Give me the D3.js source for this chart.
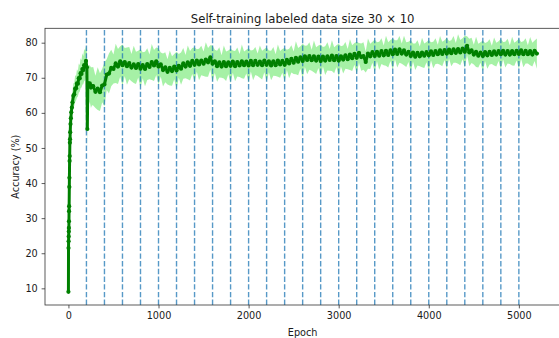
<!DOCTYPE html>
<html>
<head>
<meta charset="utf-8">
<script src="https://cdn.jsdelivr.net/npm/d3@7"></script>
<style>
  html, body { margin: 0; padding: 0; background: #fff; }
  svg { display: block; font-family: "DejaVu Sans", sans-serif; }
</style>
</head>
<body>
<svg id="chart" width="559" height="338"></svg>
<script>
// ---- data -------------------------------------------------------------
// Warm-up phase: logged at irregular epochs
const warmupEpochs = [0, 1, 2, 3, 4, 5, 6, 7, 8, 10, 11, 13, 14, 16, 18, 20, 23, 27, 32, 38, 45,
  55, 65, 75, 85, 95, 105, 115, 125, 135, 145, 155, 165, 175, 185, 195, 205, 210, 215, 225, 237, 250, 262];
const warmupMean = [9.0, 21.5, 23.4, 24.8, 26.2, 27.2, 29.1, 32.0, 33.4, 38.9, 41.5, 46.3, 47.7, 51.5, 52.5,
  54.5, 56.8, 58.5, 60.2, 61.5, 63.0, 64.9, 65.3, 66.9, 67.0, 68.4, 68.3, 69.9, 69.8, 71.3, 71.1, 72.5, 72.2,
  73.6, 73.5, 74.8, 73.0, 55.4, 68.5, 67.8, 68.4, 67.2, 67.6];
const warmupStd = [0.8, 1.2, 1.0, 1.3, 1.1, 1.4, 1.2, 1.5, 1.3, 1.6, 1.5, 1.8, 1.6, 2.0, 1.9, 2.2, 2.4, 2.6,
  2.8, 3.0, 3.2, 3.5, 3.3, 3.8, 3.5, 4.0, 3.6, 4.2, 3.8, 4.3, 3.9, 4.5, 4.0, 4.6, 4.2, 4.4, 4.8, 5.5, 5.0,
  5.6, 5.2, 5.8, 5.4];

// Self-training phase: logged every 25 epochs from 275 to 5200
const selfTrainStart = 275, selfTrainEnd = 5200, logEvery = 25;
const selfTrainMean = [
  67.6, 66.0, 66.9, 65.9, 67.8, 68.1, 70.9, 71.2,
  72.8, 72.5, 74.1, 73.2, 74.7, 73.6, 74.5, 73.3,
  74.2, 72.9, 73.8, 72.8, 73.9, 72.6, 73.6, 72.5,
  73.9, 73.1, 74.5, 73.5, 74.7, 73.2, 73.8, 72.2,
  73.0, 71.7, 72.8, 71.9, 73.2, 72.1, 73.4, 72.6,
  74.1, 73.2, 74.4, 73.4, 74.8, 73.7, 74.9, 73.8,
  74.9, 74.0, 75.2, 74.4, 75.8, 74.0, 74.7, 73.3,
  74.4, 73.2, 74.5, 73.3, 74.4, 73.4, 74.6, 73.3,
  74.5, 73.5, 74.7, 73.6, 74.6, 73.5, 74.8, 73.6,
  74.8, 73.7, 74.6, 73.6, 74.9, 73.7, 74.7, 73.5,
  74.7, 73.6, 74.9, 73.8, 74.8, 73.7, 75.1, 74.1,
  75.4, 74.3, 75.7, 74.6, 75.8, 74.8, 76.1, 75.1,
  76.2, 75.0, 76.1, 74.9, 76.0, 74.8, 76.0, 74.9,
  76.1, 75.1, 76.3, 75.0, 76.2, 74.9, 76.1, 75.2,
  76.4, 75.3, 76.6, 75.6, 76.8, 75.7, 77.1, 75.9,
  76.2, 74.5, 76.9, 76.1, 77.3, 76.2, 77.4, 76.3,
  77.6, 76.4, 77.7, 76.5, 77.8, 76.7, 78.0, 76.8,
  78.1, 76.9, 77.8, 76.6, 77.4, 76.2, 77.2, 76.0,
  77.1, 76.1, 77.2, 76.3, 77.3, 76.4, 77.5, 76.5,
  77.6, 76.7, 77.8, 76.8, 77.9, 76.9, 78.0, 77.0,
  78.1, 77.1, 78.2, 77.2, 78.3, 77.4, 79.1, 77.2,
  77.8, 76.6, 77.4, 76.3, 77.2, 76.2, 77.3, 76.4,
  77.4, 76.5, 77.5, 76.6, 77.6, 76.7, 77.7, 76.6,
  77.6, 76.6, 77.6, 76.7, 77.7, 76.8, 77.8, 76.7,
  77.7, 76.7, 77.6, 76.6, 77.7, 76.9
];
const selfTrainStd = [
  5.5, 4.6, 6.1, 5.4, 4.8, 6.3, 4.4, 5.7,
  5.2, 4.1, 5.6, 5.0, 4.3, 5.9, 4.0, 5.3,
  4.6, 3.9, 5.3, 4.6, 3.8, 5.5, 3.7, 4.9,
  4.5, 3.5, 5.1, 4.4, 3.9, 5.2, 3.4, 4.7,
  4.3, 3.6, 5.0, 4.2, 3.6, 5.3, 3.4, 4.6,
  4.4, 3.3, 4.8, 4.2, 3.7, 5.0, 3.2, 4.5,
  4.2, 3.5, 4.9, 4.1, 3.5, 5.2, 3.3, 4.4,
  4.3, 3.2, 4.7, 4.2, 3.4, 4.9, 3.2, 4.3,
  4.1, 3.3, 4.8, 3.9, 3.4, 4.9, 3.0, 4.3,
  4.0, 3.2, 4.6, 4.1, 3.3, 5.0, 3.1, 4.2,
  4.1, 3.1, 4.6, 3.8, 3.4, 4.8, 2.9, 4.2,
  3.9, 3.2, 4.7, 3.9, 3.2, 4.9, 3.0, 4.1,
  3.9, 3.0, 4.5, 3.8, 3.2, 4.7, 2.8, 4.1,
  4.0, 3.1, 4.4, 3.7, 3.1, 4.8, 2.9, 4.0,
  3.8, 2.9, 4.4, 3.7, 3.1, 4.6, 2.8, 3.9,
  3.9, 3.0, 4.3, 3.6, 3.0, 4.7, 2.7, 4.0,
  3.7, 2.8, 4.3, 3.6, 3.0, 4.5, 2.7, 3.9,
  3.8, 2.9, 4.2, 3.5, 2.9, 4.6, 2.6, 3.8,
  3.6, 2.8, 4.2, 3.5, 2.9, 4.4, 2.6, 3.8,
  3.7, 2.7, 4.1, 3.5, 2.8, 4.5, 2.5, 3.7,
  3.8, 2.8, 4.2, 3.6, 3.0, 4.6, 2.7, 3.9,
  3.6, 2.8, 4.3, 3.4, 2.9, 4.4, 2.6, 3.8,
  3.6, 2.6, 4.0, 3.4, 2.8, 4.4, 2.5, 3.7,
  3.5, 2.7, 4.1, 3.3, 2.8, 4.3, 2.4, 3.7,
  3.6, 2.6, 4.0, 3.4, 2.9, 4.3
];

// Epochs where a new self-training round begins
const roundEpochs = [200, 400, 600, 800, 1000, 1200, 1400, 1600, 1800, 2000, 2200, 2400, 2600,
  2800, 3000, 3200, 3400, 3600, 3800, 4000, 4200, 4400, 4600, 4800, 5000];

const xTicks = [0, 1000, 2000, 3000, 4000, 5000];
const yTicks = [10, 20, 30, 40, 50, 60, 70, 80];

const titleText = "Self-training labeled data size 30 \u00d7 10";
const xLabel = "Epoch";
const yLabel = "Accuracy (%)";

// ---- assemble records -------------------------------------------------
const selfTrainEpochs = d3.range(selfTrainStart, selfTrainEnd + 1, logEvery);
const records = warmupEpochs.map((e, i) => ({ epoch: e, mean: warmupMean[i], std: warmupStd[i] }))
  .concat(selfTrainEpochs.map((e, i) => ({ epoch: e, mean: selfTrainMean[i], std: selfTrainStd[i] })));

// ---- layout -----------------------------------------------------------
const svg = d3.select("#chart");
const plot = { left: 45, right: 560.3, top: 28.3, bottom: 305 };
const ink = "#1a1a1a";
const spine = "#333";
const fontSize = 9.7;

const x = d3.scaleLinear().domain([-260, 5460]).range([plot.left, plot.right]);
const y = d3.scaleLinear().domain([5.25, 84.1]).range([plot.bottom, plot.top]);

// clip so nothing spills past the axes box
svg.append("defs").append("clipPath").attr("id", "plotClip")
  .append("rect")
  .attr("x", plot.left).attr("y", plot.top)
  .attr("width", plot.right - plot.left).attr("height", plot.bottom - plot.top);

const body = svg.append("g").attr("clip-path", "url(#plotClip)");

// ±1 std band
const band = d3.area()
  .x(d => x(d.epoch))
  .y0(d => y(d.mean - d.std))
  .y1(d => y(d.mean + d.std));
body.append("path")
  .datum(records)
  .attr("d", band)
  .attr("fill", "#90ee90")
  .attr("fill-opacity", 0.8)
  .attr("stroke", "none");

// round boundaries
body.selectAll("line.round")
  .data(roundEpochs)
  .join("line")
  .attr("class", "round")
  .attr("x1", d => x(d)).attr("x2", d => x(d))
  .attr("y1", plot.bottom).attr("y2", plot.top)
  .attr("stroke", "#1f77b4")
  .attr("stroke-opacity", 0.75)
  .attr("stroke-width", 1.4)
  .attr("stroke-dasharray", "5.4,2.3");

// mean accuracy line with point markers
const meanLine = d3.line().x(d => x(d.epoch)).y(d => y(d.mean));
body.append("path")
  .datum(records)
  .attr("d", meanLine)
  .attr("fill", "none")
  .attr("stroke", "#008000")
  .attr("stroke-width", 3.0)
  .attr("stroke-linejoin", "round");

body.selectAll("circle.pt")
  .data(records)
  .join("circle")
  .attr("class", "pt")
  .attr("cx", d => x(d.epoch))
  .attr("cy", d => y(d.mean))
  .attr("r", 2.1)
  .attr("fill", "#008000");

// ---- axes -------------------------------------------------------------
const xAxis = d3.axisBottom(x).tickValues(xTicks).tickFormat(d3.format("d"))
  .tickSize(3.4).tickPadding(3.4);
const yAxis = d3.axisLeft(y).tickValues(yTicks).tickFormat(d3.format("d"))
  .tickSize(3.4).tickPadding(3.9);

const gx = svg.append("g").attr("transform", `translate(0,${plot.bottom})`).call(xAxis);
const gy = svg.append("g").attr("transform", `translate(${plot.left},0)`).call(yAxis);

[gx, gy].forEach(g => {
  g.select(".domain").remove();
  g.selectAll(".tick line").attr("stroke", spine).attr("stroke-width", 0.8);
  g.selectAll(".tick text")
    .attr("fill", ink)
    .style("font-family", "'DejaVu Sans', sans-serif")
    .style("font-size", fontSize + "px");
});

// spines (the right one falls just outside the canvas)
svg.append("rect")
  .attr("x", plot.left).attr("y", plot.top)
  .attr("width", plot.right - plot.left).attr("height", plot.bottom - plot.top)
  .attr("fill", "none")
  .attr("stroke", spine)
  .attr("stroke-width", 0.8);

// ---- labels -----------------------------------------------------------
svg.append("text")
  .attr("x", (plot.left + plot.right) / 2)
  .attr("y", 22.5)
  .attr("text-anchor", "middle")
  .attr("fill", ink)
  .style("font-size", "11.65px")
  .text(titleText);

svg.append("text")
  .attr("x", (plot.left + plot.right) / 2)
  .attr("y", 335.5)
  .attr("text-anchor", "middle")
  .attr("fill", ink)
  .style("font-size", fontSize + "px")
  .text(xLabel);

svg.append("text")
  .attr("transform", `translate(18.5,${(plot.top + plot.bottom) / 2}) rotate(-90)`)
  .attr("text-anchor", "middle")
  .attr("fill", ink)
  .style("font-size", fontSize + "px")
  .text(yLabel);
</script>
</body>
</html>
